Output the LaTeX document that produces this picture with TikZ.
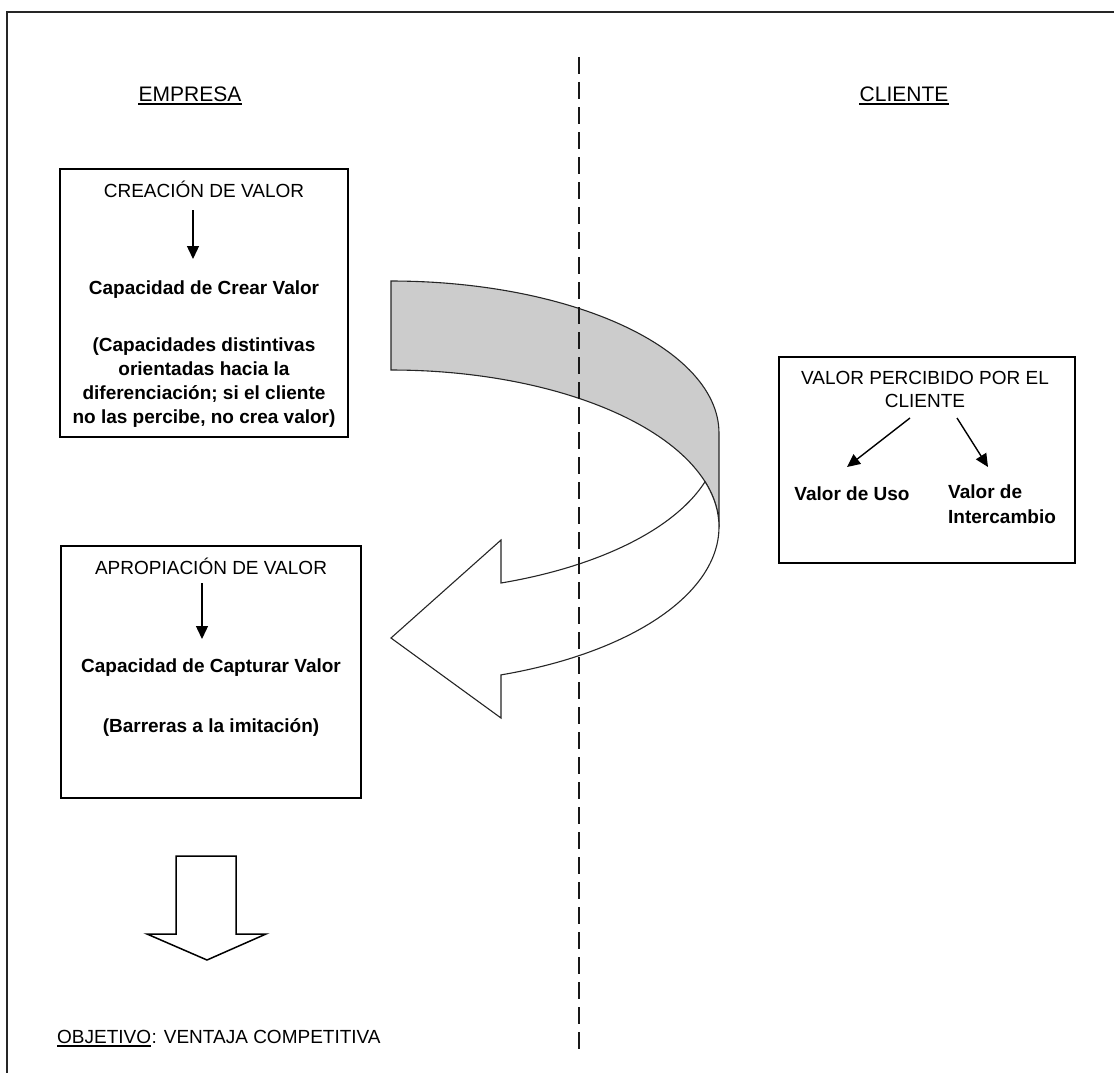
\documentclass[tikz,border=0pt]{standalone}
\usepackage{fontspec}
\setmainfont{Liberation Sans}
\usetikzlibrary{arrows.meta}
\definecolor{bandgray}{RGB}{204,204,204}
\begin{document}
\begin{tikzpicture}[x=1pt,y=-1pt,
  box/.style={draw, line width=1.5pt, inner sep=0pt},
  plain/.style={font=\fontsize{19}{24}\selectfont, inner sep=0pt},
  strong/.style={font=\fontsize{19}{24}\selectfont\bfseries, inner sep=0pt, align=center},
  heading/.style={font=\fontsize{21}{25}\selectfont, inner sep=0pt},
  uline/.style={line width=1.6pt},
  darrow/.style={-{Triangle[length=13pt,width=12pt]}, line width=1.4pt},
  ribbon/.style={line width=1.1pt, draw=black!85},
]
\useasboundingbox (0,0) rectangle (1114,1073);
\clip (0,0) rectangle (1114,1073);

% page frame
\draw[line width=2.2pt, black!85] (7,12) rectangle (1130,1090);

% column headings
\node[heading, anchor=base] (emp) at (190,101) {EMPRESA};
\node[heading, anchor=base] (cli) at (904,101) {CLIENTE};
\draw[uline] ([yshift=-3pt]emp.base west) -- ([yshift=-3pt]emp.base east);
\draw[uline] ([yshift=-3pt]cli.base west) -- ([yshift=-3pt]cli.base east);

% value creation box
\node[box, minimum width=288pt, minimum height=268pt] (b1) at (204,303) {};
\node[plain, anchor=base] (creacion) at (204,197) {CREACIÓN DE VALOR};
\node[strong, anchor=base] (crear) at (204,294) {Capacidad de Crear Valor};
\node[strong, anchor=center] (distintivas) at (204,383)
  {(Capacidades distintivas\\orientadas hacia la\\diferenciación; si el cliente\\no las percibe, no crea valor)};
\coordinate (c1a) at (193,210);
\coordinate (c1b) at (193,259);
\draw[darrow] (c1a) -- (c1b);

% value appropriation box
\node[box, minimum width=300pt, minimum height=252pt] (b2) at (211,672) {};
\node[plain, anchor=base] (apropiacion) at (211,574) {APROPIACIÓN DE VALOR};
\node[strong, anchor=base] (capturar) at (211,672) {Capacidad de Capturar Valor};
\node[strong, anchor=base] (barreras) at (211,732) {(Barreras a la imitación)};
\coordinate (c2a) at (202,583);
\coordinate (c2b) at (202,639);
\draw[darrow] (c2a) -- (c2b);

% perceived value box
\node[box, minimum width=296pt, minimum height=206pt] (b3) at (927,460) {};
\node[plain, align=center, font=\fontsize{19}{23}\selectfont, anchor=center] (percibido) at (925,389)
  {VALOR PERCIBIDO POR EL\\CLIENTE};
\node[strong, anchor=base] (uso) at (852,500) {Valor de Uso};
\node[strong, align=left, font=\fontsize{19}{25}\selectfont\bfseries, anchor=north west] (intercambio) at (948,485)
  {Valor de\\Intercambio};
\coordinate (p1a) at (910,418);
\coordinate (p1b) at (847,467);
\coordinate (p2a) at (957,418);
\coordinate (p2b) at (988,467);
\draw[darrow] (p1a) -- (p1b);
\draw[darrow] (p2a) -- (p2b);

% curved ribbon arrow: grey back band
\filldraw[ribbon, fill=bandgray]
  plot[domain=90:0, samples=60] ({391+328*cos(\x)},{433-152*sin(\x)})
  -- plot[domain=0:90, samples=60] ({391+328*cos(\x)},{527-157*sin(\x)})
  -- cycle;
% curved ribbon arrow: white front with head
\filldraw[ribbon, fill=white, line join=miter]
  plot[domain=16.8:0, samples=20] ({391+328*cos(\x)},{527-157*sin(\x)})
  -- plot[domain=0:70.4, samples=60] ({391+328*cos(\x)},{527+157*sin(\x)})
  -- (501,718) -- (391,638) -- (501,540)
  -- plot[domain=70.4:16.8, samples=60] ({391+328*cos(\x)},{437+155*sin(\x)})
  -- cycle;

% block arrow towards the objective
\draw[line width=1.5pt, line join=miter]
  (176,856) -- (236,856) -- (236,934) -- (266,934) -- (207,960)
  -- (147,934) -- (176,934) -- cycle;

% objective
\node[plain, anchor=base west] (obj) at (57,1043) {OBJETIVO};
\node[plain, anchor=base west] (ventaja) at (obj.base east) {: VENTAJA COMPETITIVA};
\draw[uline] ([yshift=-3pt]obj.base west) -- ([yshift=-3pt]obj.base east);

% dividing line
\coordinate (d1) at (579,57);
\coordinate (d2) at (579,1051);
\draw[line width=2.8pt, black!90, dash pattern=on 17pt off 8pt] (d1) -- (d2);
\end{tikzpicture}
\end{document}
